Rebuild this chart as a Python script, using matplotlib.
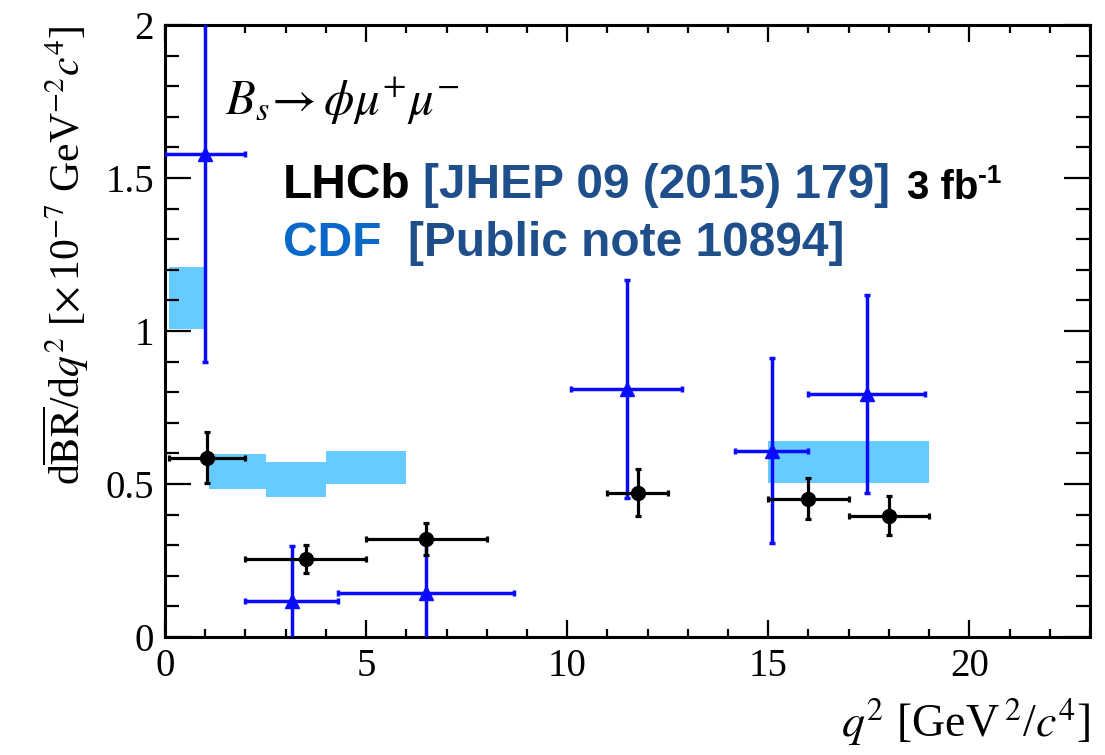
import matplotlib
matplotlib.use('Agg')
import numpy as np
import matplotlib.pyplot as plt
from matplotlib.ticker import MultipleLocator

plt.rcParams['font.family'] = ['Liberation Serif', 'DejaVu Serif']
plt.rcParams['mathtext.fontset'] = 'stix'

# LHCb points (bin edges, centre, value, asymmetric errors)
lhcb_x = [1.05, 3.5, 6.5, 11.75, 16.0, 18.0]
lhcb_lo = [0.1, 2.0, 5.0, 11.0, 15.0, 17.0]
lhcb_hi = [2.0, 5.0, 8.0, 12.5, 17.0, 19.0]
lhcb_val = [0.585, 0.255, 0.32, 0.47, 0.452, 0.396]
lhcb_up = [0.085, 0.046, 0.051, 0.078, 0.066, 0.065]
lhcb_dn = [0.082, 0.045, 0.051, 0.076, 0.065, 0.064]

# CDF points
cdf_x = [1.0, 3.15, 6.49, 11.48, 15.1, 17.45]
cdf_lo = [0.0, 2.0, 4.3, 10.09, 14.18, 16.0]
cdf_hi = [2.0, 4.3, 8.68, 12.86, 16.0, 18.9]
cdf_val = [1.58, 0.118, 0.145, 0.81, 0.609, 0.793]
cdf_up = [0.68, 0.18, 0.163, 0.357, 0.304, 0.325]
cdf_dn = [0.68, 0.18, 0.163, 0.355, 0.302, 0.323]

# light blue boxes
box_lo = [0.1, 1.1, 2.5, 4.0, 15.0]
box_hi = [1.0, 2.5, 4.0, 6.0, 19.0]
box_bottom = [1.005, 0.483, 0.458, 0.499, 0.504]
box_top = [1.21, 0.598, 0.572, 0.608, 0.64]

fig = plt.figure(figsize=(11.05, 7.55), dpi=100)
ax = fig.add_axes([165/1105, 1 - 637/755, (1090 - 165)/1105, (637 - 25)/755])

ax.bar(box_lo, np.array(box_top) - np.array(box_bottom), width=np.array(box_hi) - np.array(box_lo),
       bottom=box_bottom, align='edge', color='#66ccff', linewidth=0, zorder=1)

cx = np.array(cdf_x)
ax.errorbar(cdf_x, cdf_val,
            xerr=[cx - np.array(cdf_lo), np.array(cdf_hi) - cx],
            yerr=[cdf_dn, cdf_up],
            fmt='^', color='#0a0aff', ms=10, elinewidth=2.5, capsize=2.5, capthick=2.5, zorder=3)

lx = np.array(lhcb_x)
ax.errorbar(lhcb_x, lhcb_val,
            xerr=[lx - np.array(lhcb_lo), np.array(lhcb_hi) - lx],
            yerr=[lhcb_dn, lhcb_up],
            fmt='o', color='black', ms=10, elinewidth=2.3, capsize=2.5, capthick=2.3, zorder=4)

ax.set_xlim(0, 23)
ax.set_ylim(0, 2)
ax.xaxis.set_major_locator(MultipleLocator(5))
ax.xaxis.set_minor_locator(MultipleLocator(1))
ax.yaxis.set_major_locator(MultipleLocator(0.5))
ax.yaxis.set_minor_locator(MultipleLocator(0.1))
ax.set_xticks([0, 5, 10, 15, 20])
ax.set_xticklabels(['0', '5', '10', '15', '20'])
ax.set_yticks([0, 0.5, 1, 1.5, 2])
ax.set_yticklabels(['0', '0.5', '1', '1.5', '2'])

ax.tick_params(which='both', direction='in', top=True, right=True, width=1.6, labelsize=28)
ax.tick_params(axis='x', which='major', length=12, pad=8)
ax.tick_params(axis='x', which='minor', length=6)
ax.tick_params(axis='y', which='major', length=19, pad=8)
ax.tick_params(axis='y', which='minor', length=10)
for s in ax.spines.values():
    s.set_linewidth(2.2)

ax.set_xlabel(r'$q^2$ [GeV$\,^{2}$/$c^4$]', fontsize=33, loc='right', labelpad=8)
ax.set_ylabel(r'd$\overline{\rm BR}$/d$q^2$ [$\times\,$10$^{-7}$ GeV$^{-2}c^4$]', fontsize=30, loc='top', labelpad=10)

fig.text(225/1105, 1 - 115/755, r'$B_s\!\rightarrow\phi\mu^{+}\mu^{-}$',
         fontsize=35, ha='left', va='baseline')

sans = ['Liberation Sans', 'DejaVu Sans']
fig.text(283/1105, 1 - 198/755, 'LHCb', family=sans, weight='bold', fontsize=34.5, color='black')
fig.text(423/1105, 1 - 198/755, '[JHEP 09 (2015) 179]', family=sans, weight='bold', fontsize=34.5, color='#1f4f8a')
fig.text(907/1105, 1 - 199/755, '3 fb', family=sans, weight='bold', fontsize=29, color='black')
fig.text(978/1105, 1 - 183/755, '-1', family=sans, weight='bold', fontsize=19, color='black')
fig.text(283/1105, 1 - 256/755, 'CDF', family=sans, weight='bold', fontsize=34.5, color='#0a68c8')
fig.text(408/1105, 1 - 256/755, '[Public note 10894]', family=sans, weight='bold', fontsize=34.5, color='#1f4f8a')

fig.savefig('out.png', dpi=100)
